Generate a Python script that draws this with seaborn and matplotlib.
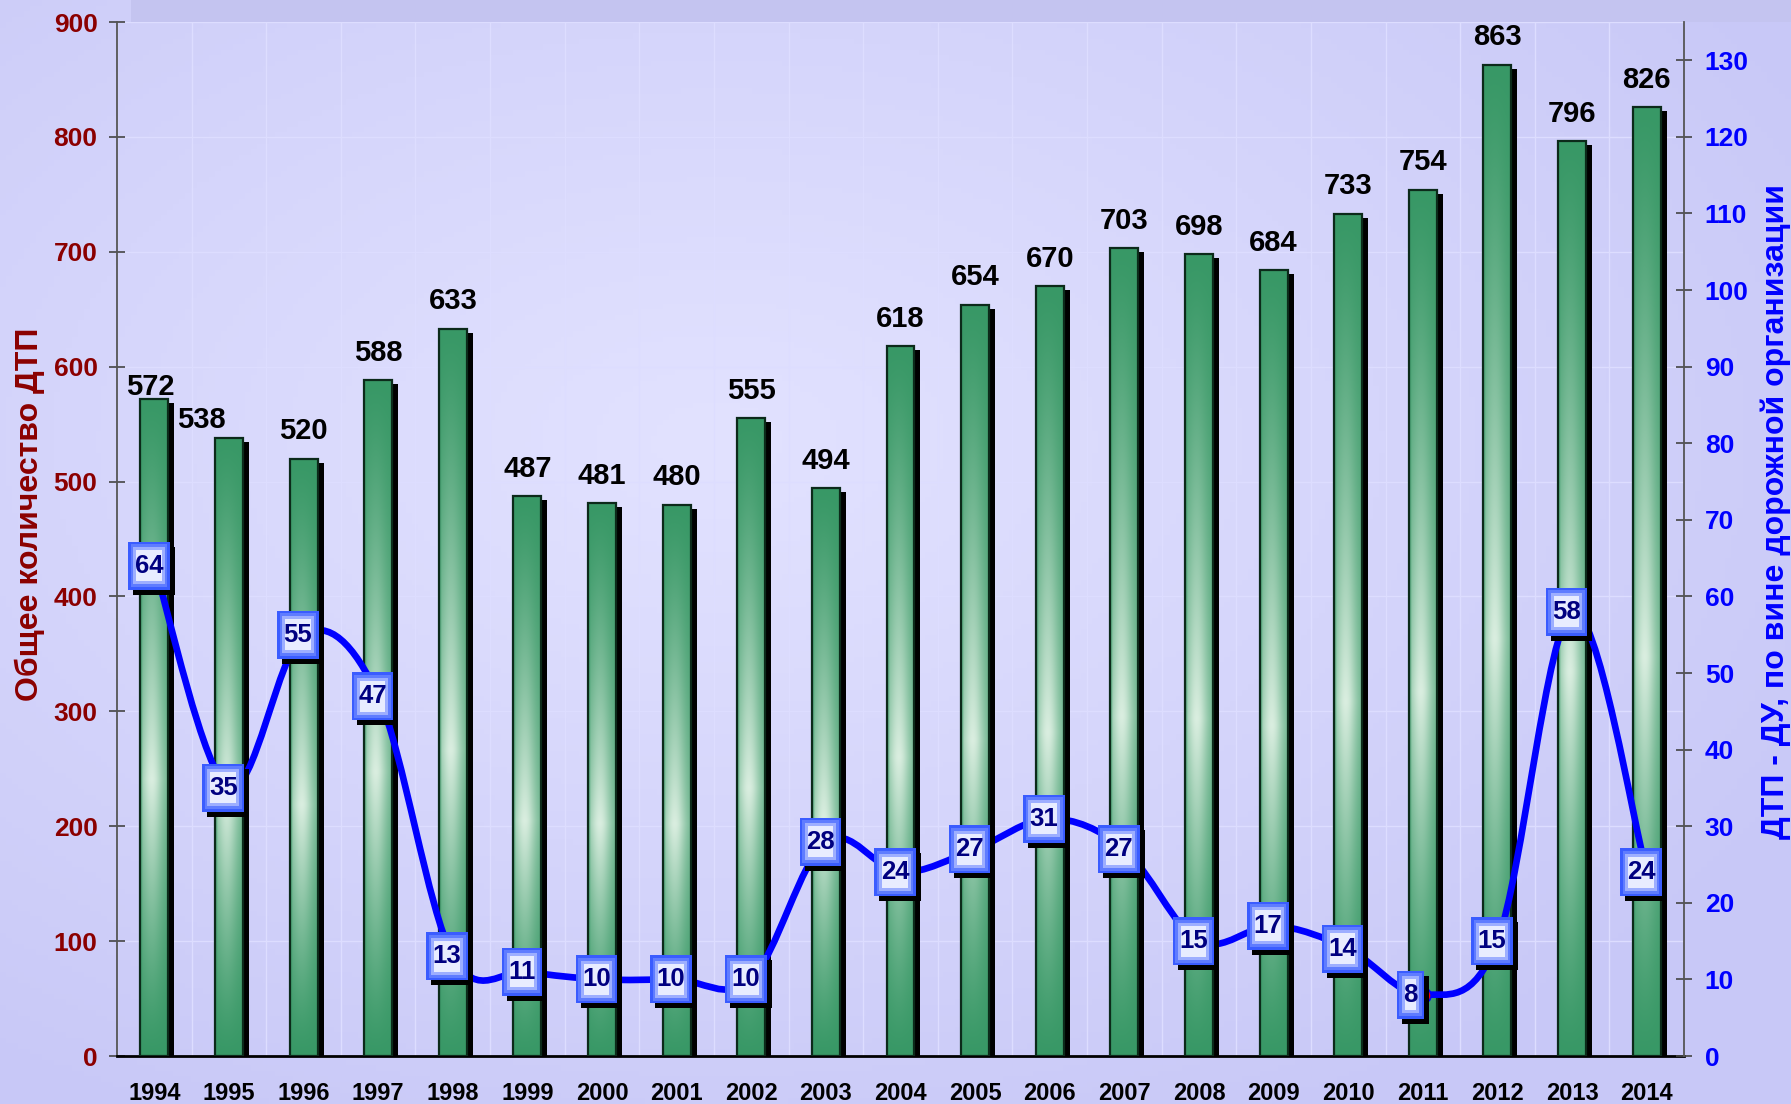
import numpy as np
import pandas as pd
import matplotlib
matplotlib.use("Agg")
import matplotlib.pyplot as plt
import matplotlib.transforms as mtransforms
from matplotlib.path import Path
from matplotlib.patches import PathPatch, Rectangle
import seaborn as sns

# ---------------- data ----------------
years = [str(y) for y in range(1994, 2015)]
total_dtp = [572, 538, 520, 588, 633, 487, 481, 480, 555, 494, 618,
             654, 670, 703, 698, 684, 733, 754, 863, 796, 826]
road_dtp = [64, 35, 55, 47, 13, 11, 10, 10, 10, 28, 24,
            27, 31, 27, 15, 17, 14, 8, 15, 58, 24]
left_ticks = [0, 100, 200, 300, 400, 500, 600, 700, 800, 900]
right_ticks = [0, 10, 20, 30, 40, 50, 60, 70, 80, 90, 100, 110, 120, 130]
left_label = "Общее количество ДТП"
right_label = "ДТП - ДУ, по вине дорожной организации"

# ---------------- style ----------------
sns.set_style("white")
plt.rcParams["font.family"] = ["Liberation Sans", "DejaVu Sans"]
plt.rcParams["font.weight"] = "bold"

W, H = 1791, 1104
fig = plt.figure(figsize=(W / 100, H / 100), dpi=100, facecolor="#CDCDF9")

# background gradient
bg = fig.add_axes([0, 0, 1, 1], zorder=-2)
yy, xx = np.mgrid[0:1:200j, 0:1:300j]
r = np.sqrt(((xx - 0.4) / 0.7) ** 2 + ((yy - 0.6) / 0.7) ** 2)
r = np.clip(r, 0, 1)
c_center = np.array([226, 226, 255]) / 255
c_edge = np.array([200, 200, 247]) / 255
img = c_center + (c_edge - c_center) * (r[..., None] ** 1.1)
bg.imshow(img, extent=[0, 1, 0, 1], aspect="auto", origin="lower")
bg.axis("off")

ax_left = 117 / W
ax_bottom = 1 - 1056 / H
ax_w = (1684 - 117) / W
ax_h = (1056 - 22) / H
fig.patches.append(Rectangle((0.073, ax_bottom + ax_h), 1 - 0.073, 1 - ax_bottom - ax_h,
                             transform=fig.transFigure, facecolor="#C4C4F0",
                             edgecolor="none", zorder=-1))

ax = fig.add_axes([ax_left, ax_bottom, ax_w, ax_h])
ax.set_facecolor("none")

n = len(years)
df = pd.DataFrame({"year": years, "total": total_dtp})
sns.barplot(data=df, x="year", y="total", ax=ax, color="#3A9A68", width=0.375,
            saturation=1, edgecolor="#0c2a1a", linewidth=1.6, zorder=3)
bars = list(ax.patches)

# shadows
shadow_off = mtransforms.ScaledTranslation(6 / 100, -4 / 100, fig.dpi_scale_trans)
for p in bars:
    ax.add_patch(Rectangle((p.get_x(), 0), p.get_width(), p.get_height(),
                           transform=ax.transData + shadow_off, facecolor="black",
                           edgecolor="none", zorder=2.6))

# gradient fill of bars
dark = np.array([56, 152, 102]) / 255
light = np.array([218, 238, 224]) / 255
t = np.linspace(0, 1, 300)[:, None]
s = np.linspace(0, 1, 60)[None, :]
tp = 0.42
L = np.where(t < tp, t / tp, (1 - t) / (1 - tp)) ** 1.3
hprof = 0.3 + 0.7 * np.exp(-((s - 0.42) / 0.42) ** 2)
hprof[:, :5] *= 0.55
mix = (L * hprof)[..., None]
grad = dark + (light - dark) * mix
for p in bars:
    x0, w, h = p.get_x(), p.get_width(), p.get_height()
    im = ax.imshow(grad, extent=[x0, x0 + w, 0, h], origin="lower", aspect="auto",
                   interpolation="bilinear", zorder=3.1)
    im.set_clip_path(p)
    p.set_facecolor("none")
    p.set_zorder(3.2)

# value labels above bars
label_offsets = {0: (-3, 3), 1: (-19.5, 7)}
for i, (p, v) in enumerate(zip(bars, total_dtp)):
    dx, dy = label_offsets.get(i, (0, 14))
    ax.annotate(f"{v}", xy=(p.get_x() + p.get_width() / 2, v), xytext=(dx, dy),
                textcoords="offset points", ha="center", va="baseline",
                fontsize=21, fontweight="bold", color="black", zorder=6)

ax.set_xlim(-0.5, n - 0.5)
ax.set_ylim(0, 900)
ax.set_yticks(left_ticks)
ax.set_xticks(range(n))
ax.set_xticklabels(years)
ax.set_xticks(np.arange(-0.5, n, 1), minor=True)
ax.tick_params(axis="x", which="major", length=0, pad=19, labelsize=17, labelcolor="black")
ax.tick_params(axis="x", which="minor", length=12, width=1.2, direction="inout", color="#333333")
ax.tick_params(axis="y", length=12, width=1.2, direction="inout", color="#444444",
               labelsize=19, labelcolor="#8B0000", pad=8, left=True)
ax.grid(axis="y", color="#DDDDFF", lw=1)
ax.grid(axis="x", which="minor", color="#DDDDFF", lw=1)
ax.set_axisbelow(True)
ax.set_xlabel("")
ax.set_ylabel(left_label, color="#8B0000", fontsize=23, fontweight="bold")
ax.yaxis.label.set_va("center")
ax.yaxis.set_label_coords((30 - 117) / 1567, 0.524)
for side in ["top", "right"]:
    ax.spines[side].set_visible(False)
ax.spines["left"].set_color("#555555")
ax.spines["left"].set_linewidth(1.3)
ax.spines["bottom"].set_color("black")
ax.spines["bottom"].set_linewidth(2)

# ---------------- secondary axis ----------------
ax2 = ax.twinx()
ax2.patch.set_visible(False)
ax2.set_ylim(0, 135)
ax2.set_yticks(right_ticks)
ax2.tick_params(axis="y", length=12, width=1.2, direction="inout", color="#444444",
                labelsize=19, labelcolor="#0000FF", pad=9, right=True)
for side in ["top", "left", "bottom"]:
    ax2.spines[side].set_visible(False)
ax2.spines["right"].set_color("#555555")
ax2.spines["right"].set_linewidth(1.3)
ax2.set_ylabel(right_label, color="#0000FF", fontsize=23, fontweight="bold", rotation=90)
ax2.yaxis.label.set_va("center")
ax2.yaxis.set_label_coords((1776 - 117) / 1567, 0.527)

# smooth line (cubic Bezier through the data points)
xs = np.arange(n, dtype=float)
P = np.column_stack([xs, np.array(road_dtp, float)])
Pe = np.vstack([P[0], P, P[-1]])
verts = [P[0]]
codes = [Path.MOVETO]
for i in range(n - 1):
    p0, p1, p2, p3 = Pe[i], Pe[i + 1], Pe[i + 2], Pe[i + 3]
    verts += [p1 + (p2 - p0) / 6, p2 - (p3 - p1) / 6, p2]
    codes += [Path.CURVE4] * 3
ax2.add_patch(PathPatch(Path(verts, codes), fill=False, edgecolor="#0000FF", lw=4.8,
                        capstyle="round", joinstyle="round", zorder=3))
sns.scatterplot(x=xs, y=road_dtp, ax=ax2, color="#FF0000", s=120, edgecolor="#0000FF",
                linewidth=1.2, zorder=4, legend=False)


class RectBox:
    def __init__(self, padx, pady):
        self.padx, self.pady = padx, pady

    def __call__(self, x0, y0, width, height, mutation_size, *args, **kwargs):
        a, b = x0 - self.padx, y0 - self.pady
        c, d = x0 + width + self.padx, y0 + height + self.pady
        return Path([(a, b), (c, b), (c, d), (a, d), (a, b)],
                    [Path.MOVETO, Path.LINETO, Path.LINETO, Path.LINETO, Path.CLOSEPOLY])


ax.set_xlim(-0.5, n - 0.5)
ax2.set_xlim(-0.5, n - 0.5)
ax2.set_ylim(0, 135)

# data labels of the line: one text each, with the light inner box
box_texts = []
for i, v in enumerate(road_dtp):
    txt = f"{v}"
    base_dx = -4 if len(txt) > 1 else -9
    a = ax2.annotate(txt, xy=(i, v), xytext=(base_dx, 0), textcoords="offset points",
                     ha="center", va="center", fontsize=18.5, fontweight="bold",
                     color="#000080", zorder=10,
                     bbox=dict(boxstyle=RectBox(-1.5, 3.5), facecolor="#E8ECFF",
                               edgecolor="none"))
    box_texts.append(a)

# frame rings and shadow around each label, sized from the rendered text
fig.canvas.draw()
renderer = fig.canvas.get_renderer()
rings = [
    ("#000000", 6.5, 12, 5, -5),
    ("#3A5CFF", 6.5, 12, 0, 0),
    ("#5F7CFF", 4, 9.5, 0, 0),
    ("#9DAEFF", 1.5, 6.5, 0, 0),
]
for a in box_texts:
    bb = a.get_window_extent(renderer)
    for k, (fc, px, py, sdx, sdy) in enumerate(rings):
        rect = Rectangle((bb.x0 - px + sdx, bb.y0 - py + sdy), bb.width + 2 * px,
                         bb.height + 2 * py, transform=mtransforms.IdentityTransform(),
                         facecolor=fc, edgecolor="none", zorder=6 + k)
        ax2.add_artist(rect)

fig.savefig("out.png", dpi=100, facecolor=fig.get_facecolor())
